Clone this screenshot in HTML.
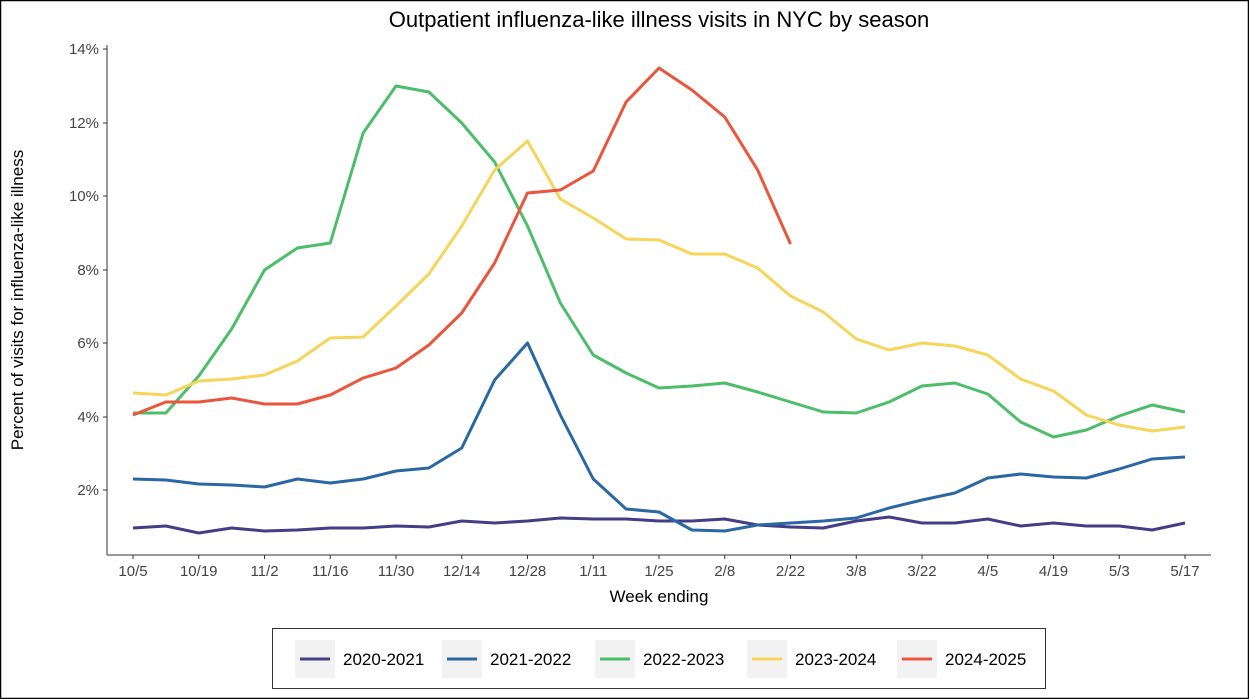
<!DOCTYPE html>
<html><head><meta charset="utf-8"><style>
body{margin:0;background:#fff}
svg{display:block;font-family:"Liberation Sans",sans-serif}
</style></head><body>
<svg width="1249" height="699" viewBox="0 0 1249 699">
<rect x="0.5" y="0.5" width="1248" height="698" fill="#fff" stroke="#000" stroke-width="1.5"/>
<text x="659" y="27" font-size="22" text-anchor="middle" fill="#000">Outpatient influenza-like illness visits in NYC by season</text>
<g stroke="#333" stroke-width="1">
<line x1="107" y1="45" x2="107" y2="555"/>
<line x1="107" y1="555" x2="1211" y2="555"/>
</g>
<g font-size="15" fill="#444" text-anchor="end">
<text x="99" y="54">14%</text><text x="99" y="128">12%</text><text x="99" y="201">10%</text>
<text x="99" y="275">8%</text><text x="99" y="348">6%</text><text x="99" y="422">4%</text><text x="99" y="495">2%</text>
</g>
<g stroke="#333"><line x1="103" y1="49" x2="107" y2="49"/><line x1="103" y1="123" x2="107" y2="123"/><line x1="103" y1="196" x2="107" y2="196"/><line x1="103" y1="270" x2="107" y2="270"/><line x1="103" y1="343" x2="107" y2="343"/><line x1="103" y1="417" x2="107" y2="417"/><line x1="103" y1="490" x2="107" y2="490"/></g>
<g id="xt" font-size="15" fill="#444" text-anchor="middle"></g>
<g id="xtk" stroke="#333"></g>
<text x="659" y="602" font-size="17" text-anchor="middle" fill="#000">Week ending</text>
<text transform="translate(23,300) rotate(-90)" font-size="17" text-anchor="middle" fill="#000">Percent of visits for influenza-like illness</text>
<g id="lines" fill="none" stroke-width="3" stroke-linejoin="round"></g>
<rect x="272.5" y="628.5" width="773" height="60" fill="#fff" stroke="#333"/>
<g id="leg" font-size="17" fill="#000"></g>
</svg>
<script>
var ns="http://www.w3.org/2000/svg";
function el(p,t,a,txt){var e=document.createElementNS(ns,t);for(var k in a)e.setAttribute(k,a[k]);if(txt)e.textContent=txt;document.getElementById(p).appendChild(e);}
var labs=["10/5","10/19","11/2","11/16","11/30","12/14","12/28","1/11","1/25","2/8","2/22","3/8","3/22","4/5","4/19","5/3","5/17"];
labs.forEach(function(l,i){var x=133+65.75*i;el("xt","text",{x:x,y:576},l);el("xtk","line",{x1:x,y1:555,x2:x,y2:559});});
var data=[
["#433E85",[528,526,533,528,531,530,528,528,526,527,521,523,521,518,519,519,521,521,519,525,527,528,521,517,523,523,519,526,523,526,526,530,523]],
["#2A67A3",[479,480,484,485,487,479,483,479,471,468,448,380,343,415,479,509,512,530,531,525,523,521,518,508,500,493,478,474,477,478,469,459,457]],
["#4CBE6A",[413,413,376,329,270,248,243,133,86,92,123,162,226,303,355,373,388,386,383,392,402,412,413,402,386,383,394,422,437,430,416,405,412]],
["#F5D55A",[393,395,381,379,375,361,338,337,306,274,226,170,141,199,218,239,240,254,254,268,296,312,339,350,343,346,355,379,391,415,425,431,427]],
["#E9563D",[415,402,402,398,404,404,395,378,368,345,313,263,193,190,171,102,68,90,117,170,244]]];
var names=["2020-2021","2021-2022","2022-2023","2023-2024","2024-2025"];
var lx=[300,447,600,752,902];
data.forEach(function(d,j){
 el("lines","polyline",{stroke:d[0],points:d[1].map(function(y,i){return (133+32.875*i)+","+y}).join(" ")});
 el("leg","rect",{x:lx[j]-5,y:640,width:40,height:38,fill:"#f2f2f2"});
 el("leg","line",{x1:lx[j],y1:659,x2:lx[j]+30,y2:659,stroke:d[0],"stroke-width":3});
 el("leg","text",{x:lx[j]+43,y:665},names[j]);
});
</script>
</body></html>
